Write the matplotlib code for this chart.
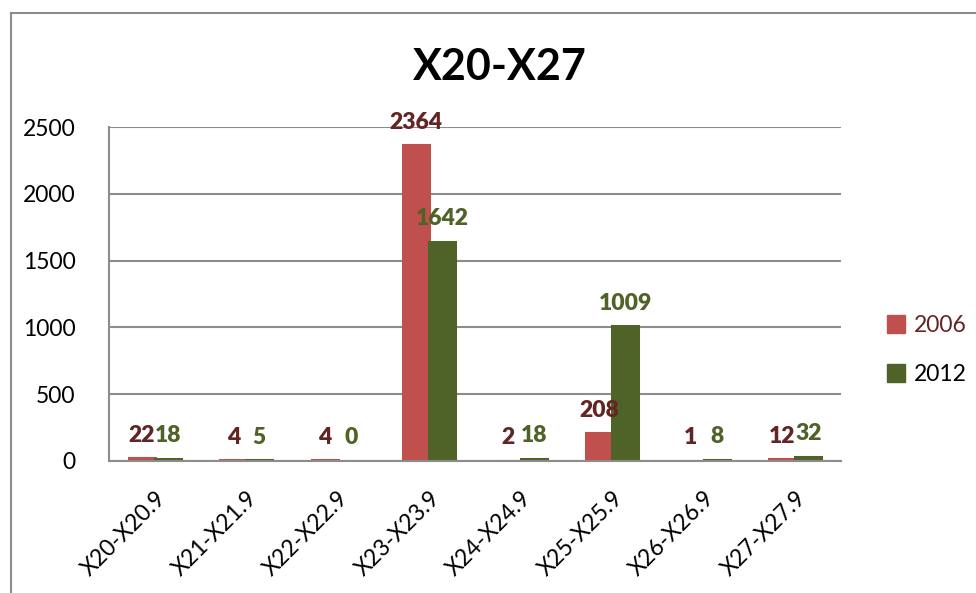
"""Grouped bar chart X20-X27, 2006 vs 2012"""
import numpy as np
import matplotlib.pyplot as plt
from matplotlib.lines import Line2D
from matplotlib.transforms import ScaledTranslation

categories = ['X20-X20.9', 'X21-X21.9', 'X22-X22.9', 'X23-X23.9',
              'X24-X24.9', 'X25-X25.9', 'X26-X26.9', 'X27-X27.9']
values_2006 = [22, 4, 4, 2364, 2, 208, 1, 12]
values_2012 = [18, 5, 0, 1642, 18, 1009, 8, 32]
series_names = ['2006', '2012']

RED = '#C0504D'
GREEN = '#4F6228'
RED_TEXT = '#632523'

plt.rcParams['font.family'] = ['Lato', 'DejaVu Sans']

fig = plt.figure(figsize=(9.76, 5.93), dpi=100)
ax = fig.add_axes([0.1117, 0.2226, 0.75, 0.5632])

x = np.arange(len(categories))
w = 0.285

for vals, off, col, tcol in [(values_2006, -w / 2, RED, RED_TEXT),
                             (values_2012, w / 2, GREEN, GREEN)]:
    # thin edge keeps tiny values visible like Excel does
    edges = [col if v > 0 else 'none' for v in vals]
    bars = ax.bar(x + off, vals, w, color=col, edgecolor=edges, linewidth=2.2)
    ax.bar_label(bars, labels=[str(v) for v in vals], padding=9,
                 fontsize=16.5, color=tcol, fontweight='heavy')

ax.set_xlim(-0.5, len(categories) - 0.5)
ax.set_ylim(0, 2500)
ax.set_yticks(np.arange(0, 2501, 500))
ax.yaxis.grid(True, color='#8C8C8C', linewidth=1.5)
ax.set_axisbelow(True)
ax.tick_params(axis='y', length=0, labelsize=16.5, pad=24)
ax.tick_params(axis='x', length=0, labelsize=16.5, pad=6)
ax.set_xticks(x)
ax.set_xticklabels(categories, rotation=45, ha='right', rotation_mode='anchor')
shift = ScaledTranslation(0.0, -0.18, fig.dpi_scale_trans)
for lbl in ax.get_xticklabels():
    lbl.set_transform(lbl.get_transform() + shift)
for s in ['top', 'right']:
    ax.spines[s].set_visible(False)
for s in ['left', 'bottom']:
    ax.spines[s].set_color('#8C8C8C')
    ax.spines[s].set_linewidth(1.5)

fig.text(0.512, 0.887, 'X20-X27', fontsize=31, fontweight='bold',
         ha='center', va='center')

handles = [Line2D([], [], marker='s', linestyle='none', markersize=13,
                  markerfacecolor=c, markeredgecolor=c) for c in (RED, GREEN)]
leg = fig.legend(handles, series_names, loc='center left',
                 bbox_to_anchor=(0.885, 0.41), frameon=False, fontsize=16.5,
                 handletextpad=0.3, labelspacing=1.2, handlelength=1.0)
leg.get_texts()[0].set_color(RED_TEXT)

# chart area border
fig.add_artist(Line2D([0.0113, 1.0], [0.978, 0.978], color='#8C8C8C', linewidth=1.5))
fig.add_artist(Line2D([0.0113, 0.0113], [0.0, 0.978], color='#8C8C8C', linewidth=1.5))

fig.savefig('out.png', dpi=100)
